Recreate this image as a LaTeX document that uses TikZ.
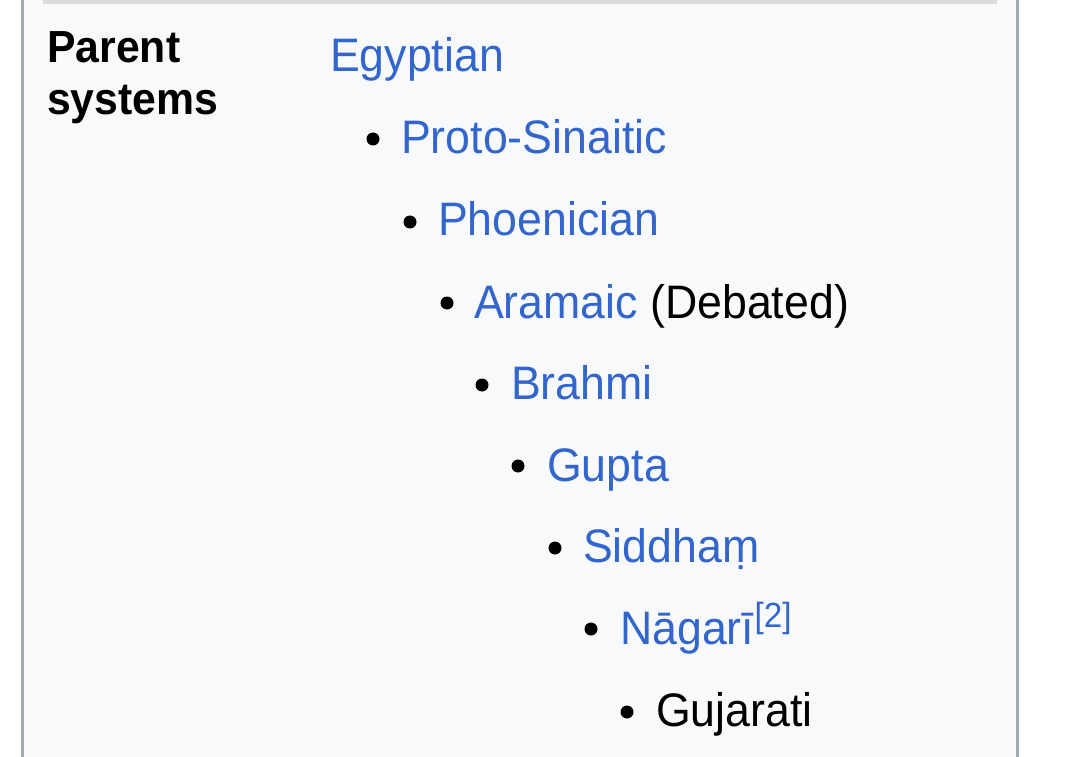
\documentclass[tikz,border=0pt]{standalone}
\usepackage{fontspec}
\setmainfont{Liberation Sans}[FakeStretch=0.95]
\definecolor{link}{HTML}{3366CC}
\definecolor{txt}{HTML}{000000}
\definecolor{boxbg}{HTML}{F8F9FA}
\definecolor{boxborder}{HTML}{A2A9B1}
\definecolor{topbar}{HTML}{DCDCDC}
\tikzset{
  item/.style={anchor=base west, inner sep=0pt, text=link, font=\fontsize{47}{56}\selectfont},
  label/.style={anchor=base west, inner sep=0pt, text=txt, font=\fontsize{45}{48}\selectfont\bfseries},
  bulletdot/.style={fill=black, draw=none, circle, inner sep=0pt, minimum size=13pt}
}
\begin{document}
\begin{tikzpicture}[x=1pt,y=-1pt]
\useasboundingbox (0,0) rectangle (1080,757);
\fill[white] (0,0) rectangle (1080,757);
\fill[boxbg] (24,0) rectangle (1016,757);
\fill[boxborder] (21,0) rectangle (24,757);
\fill[boxborder] (1016,0) rectangle (1019,757);
\fill[topbar] (43,0) rectangle (997,4);
\node[label] (lab1) at (47,63) {Parent};
\node[label] (lab2) at (47,115) {systems};
\node[item] (egy) at (330,72) {Egyptian};
\node[bulletdot] (b1) at (373,139) {};
\node[item] (pro) at (401,154) {Proto-Sinaitic};
\node[bulletdot] (b2) at (410,222) {};
\node[item] (pho) at (438,236) {Phoenician};
\node[bulletdot] (b3) at (447,303) {};
\node[item] (ara) at (474,318) {Aramaic \textcolor{txt}{(Debated)}};
\node[bulletdot] (b4) at (482,385) {};
\node[item] (bra) at (511,399) {Brahmi};
\node[bulletdot] (b5) at (518,466) {};
\node[item] (gup) at (547,481) {Gupta};
\node[bulletdot] (b6) at (555,548) {};
\node[item] (sid) at (583,562) {Siddhaṃ};
\node[bulletdot] (b7) at (591,629) {};
\node[item] (nag) at (620,644) {Nāgarī};
\node[anchor=base west, inner sep=0pt, text=link, font=\fontsize{35}{40}\selectfont] (ref) at ([yshift=17pt]nag.base east) {[2]};
\node[bulletdot] (b8) at (627,712) {};
\node[item, text=txt] (guj) at (656,726) {Gujarati};
\end{tikzpicture}
\end{document}
